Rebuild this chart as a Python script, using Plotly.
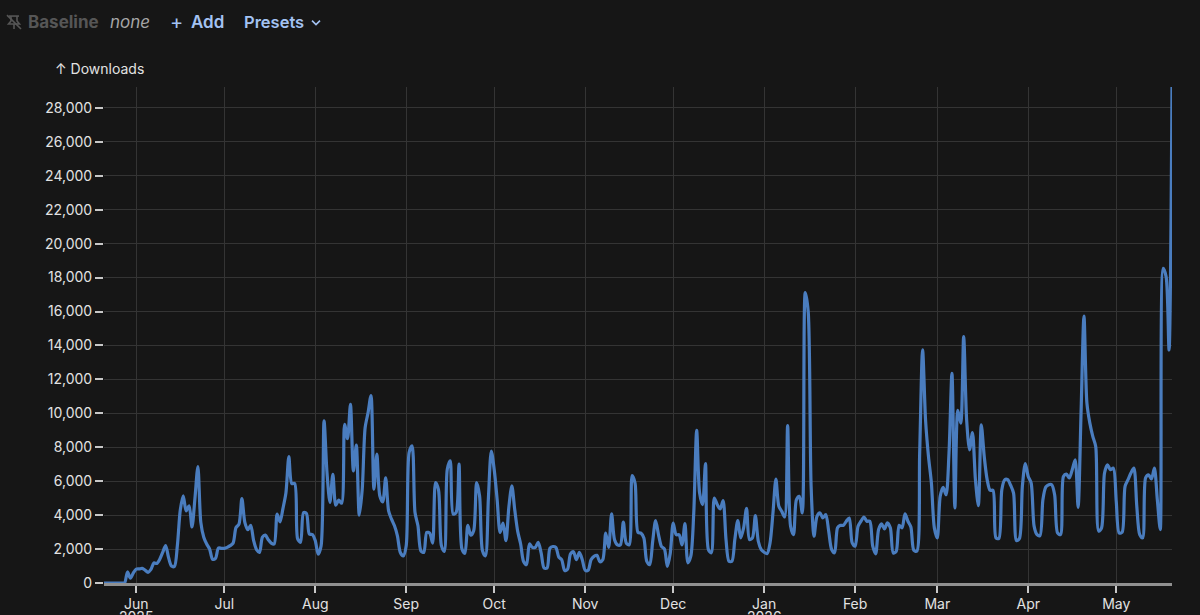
import datetime
import plotly.graph_objects as go

WIDTH = 1200
HEIGHT = 615
LEFT = 104
RIGHT = 1172
TOP = 87
BOTTOM = 583.5

# daily downloads
may_2025 = [0, 0, 0, 0, 0, 0, 0, 0, 650, 280, 600]
jun_2025 = [820, 830, 860, 760, 630, 800, 1180, 1150, 1400, 1800, 2200, 1500, 1000, 980, 2200, 4300, 5140,
            4250, 4550, 3300, 5000, 6860, 3570, 2700, 2300, 2000, 1400, 1450, 2060, 2040]
jul_2025 = [2040, 2100, 2200, 2350, 3270, 3470, 4980, 3570, 3140, 3400, 2500, 1960, 1800, 2700, 2820,
            2550, 2350, 2300, 4060, 3600, 4400, 5300, 7450, 5860, 5860, 2600, 2400, 4150, 4100, 2880, 2860]
aug_2025 = [2500, 1700, 2200, 9550, 6500, 4750, 6400, 4590, 4880, 4700, 9350, 8500, 10530, 6600, 8120, 4000,
            5500, 9150, 10040, 11050, 5530, 7590, 5140, 4780, 6200, 4250, 3760, 3370, 2780, 1800, 1600]
sep_2025 = [2200, 7690, 8080, 4150, 3370, 1900, 1800, 2980, 2940, 2350, 5920, 5500, 2200, 1860, 6700,
            7200, 4060, 4150, 7000, 2000, 1750, 3400, 2820, 3080, 5920, 5140, 1900, 1600, 4940, 7780]
oct_2025 = [6670, 4900, 2980, 3530, 2500, 4500, 5730, 4300, 3040, 2300, 1270, 1080, 2300, 2100, 2100, 2390,
            1760, 880, 880, 2050, 2150, 2100, 1530, 1370, 730, 820, 1720, 1840, 1370, 1800, 1370]
nov_2025 = [750, 750, 1370, 1570, 1630, 1250, 1370, 2940, 2100, 4080, 2550, 2250, 2250, 3590, 2350,
            2250, 6330, 5880, 2980, 2940, 2650, 1270, 1080, 2450, 3670, 2840, 2150, 2000, 980, 1760]
dec_2025 = [3530, 2850, 2840, 2250, 3500, 1190, 1580, 4130, 8990, 5300, 4620, 7030, 1970, 1780, 5010, 4620,
            4360, 4850, 2560, 1280, 1280, 2560, 3680, 2660, 3250, 4400, 2560, 2660, 3970, 2460, 1970]
jan_2026 = [1810, 1730, 2360, 4130, 6130, 4520, 4220, 3890, 9280, 3340, 2850, 4910, 5110, 4130, 17110, 16000,
            5700, 2760, 3930, 4130, 3830, 4030, 3050, 1970, 1780, 3250, 3400, 3400, 3640, 3830, 2360]
feb_2026 = [2170, 3340, 3640, 3890, 3640, 3640, 2170, 1720, 3150, 3480, 3190, 3540, 3250, 1770, 1870,
            3400, 3250, 4070, 3640, 3300, 1930, 1870, 7660, 13740, 9620, 7460, 5890, 3250]
mar_2026 = [2660, 5110, 5640, 5200, 7660, 12360, 4420, 10170, 9420, 14520, 9620, 7850, 8870, 6090, 4560, 9320,
            7460, 6090, 5460, 5460, 2660, 2620, 5500, 6090, 6090, 5760, 5300, 2500, 2620, 5700, 7030]
apr_2026 = [6280, 5890, 3350, 2850, 2790, 4910, 5660, 5790, 5790, 5200, 2950, 2850, 6280, 6420, 6190,
            6680, 7260, 4460, 10000, 15730, 10600, 9420, 8640, 8050, 3050, 3250, 6480, 6970, 6680, 6770]
may_2026 = [4810, 2950, 2990, 5700, 6090, 6480, 6770, 4520, 2850, 2660, 6190, 6380, 6130, 6770, 4910, 3150,
            18540, 18050, 13730, 29230]

downloads = (may_2025 + jun_2025 + jul_2025 + aug_2025 + sep_2025 + oct_2025 + nov_2025
             + dec_2025 + jan_2026 + feb_2026 + mar_2026 + apr_2026 + may_2026)
start = datetime.date(2025, 5, 21)
dates = [start + datetime.timedelta(days=i) for i in range(len(downloads))]

month_ticks = ["2025-06-01", "2025-07-01", "2025-08-01", "2025-09-01", "2025-10-01", "2025-11-01",
               "2025-12-01", "2026-01-01", "2026-02-01", "2026-03-01", "2026-04-01", "2026-05-01"]
month_labels = ["Jun", "Jul", "Aug", "Sep", "Oct", "Nov", "Dec", "Jan", "Feb", "Mar", "Apr", "May"]
year_ticks = ["2025-06-01", "2026-01-01"]
year_labels = ["2025", "2026"]
y_ticks = list(range(0, 30000, 2000))
y_labels = [f"{v:,}" for v in y_ticks]

BG = "#161616"
GRID = "#343434"
TEXT = "#e2e2e2"
BLUE = "#a3c2f2"
FONT = "Inter"


def px(x):
    # page pixels to paper coords
    return (x - LEFT) / (RIGHT - LEFT)


def py(y):
    return (BOTTOM - y) / (BOTTOM - TOP)


def header(text, x, y, color, size=17, weight=400, style="normal"):
    fig.add_annotation(text=text, x=px(x), y=py(y), xref="paper", yref="paper", xanchor="left",
                       yanchor="middle", showarrow=False,
                       font=dict(family=FONT, size=size, color=color, weight=weight, style=style))


def stroke(points, color, width=1.6):
    path = "M " + " L ".join(f"{px(x)} {py(y)}" for x, y in points)
    fig.add_shape(type="path", path=path, xref="paper", yref="paper",
                  line=dict(color=color, width=width))


fig = go.Figure(go.Scatter(
    x=dates,
    y=downloads,
    mode="lines",
    line=dict(color="#4a7dbf", width=3.2, shape="spline", smoothing=0.8),
    hoverinfo="skip",
))

fig.update_layout(
    width=WIDTH,
    height=HEIGHT,
    autosize=False,
    margin=dict(l=LEFT, r=WIDTH - RIGHT, t=TOP, b=HEIGHT - BOTTOM, pad=0),
    paper_bgcolor=BG,
    plot_bgcolor=BG,
    showlegend=False,
    font=dict(family=FONT, size=14, color=TEXT),
    xaxis=dict(
        range=[dates[0], dates[-1]],
        automargin=False,
        tickmode="array",
        tickvals=month_ticks,
        ticktext=month_labels,
        showgrid=True,
        gridcolor=GRID,
        gridwidth=1,
        ticks="outside",
        ticklen=7,
        tickwidth=1.5,
        tickcolor="#c8c8c8",
        showline=True,
        linecolor="#909090",
        linewidth=2.5,
        zeroline=False,
        ticklabelstandoff=-1,
        tickfont=dict(family=FONT, size=14, color=TEXT),
    ),
    yaxis=dict(
        range=[0, 29230],
        automargin=False,
        tickmode="array",
        tickvals=y_ticks,
        ticktext=y_labels,
        showgrid=True,
        gridcolor=GRID,
        gridwidth=1,
        ticks="outside",
        ticklen=8,
        tickwidth=1.5,
        tickcolor="#c8c8c8",
        showline=False,
        zeroline=False,
        tickfont=dict(family=FONT, size=14, color=TEXT),
    ),
)

# year under Jun and Jan runs off the bottom of the page, same as the original
for tick, label in zip(year_ticks, year_labels):
    fig.add_annotation(text=label, x=tick, y=py(617), xref="x", yref="paper", yanchor="middle",
                       showarrow=False, font=dict(family=FONT, size=14, color=TEXT))

header("↑ Downloads", 53, 68, TEXT, size=14)
header("Baseline", 26, 22, "#565656", weight=700)
header("none", 108, 22, "#a6a6a6", style="italic")
header("+", 168, 22, BLUE, size=20, weight=400)
header("Add", 189, 22, BLUE, weight=600)
header("Presets", 242, 22, BLUE, size=16.5, weight=600)
stroke([(312, 20.5), (316, 24.5), (320, 20.5)], BLUE)

# crossed out pin next to Baseline
stroke([(9, 16), (19, 16)], "#565656")
stroke([(11, 16), (11, 21), (8.5, 24), (19.5, 24), (17, 21), (17, 16)], "#565656")
stroke([(14, 24), (14, 29)], "#565656")
stroke([(7, 15), (21, 29)], "#565656")

# page margin would push the whole chart 8px off
no_margin = "document.body.style.margin='0';document.body.style.overflow='hidden';document.body.style.background='#161616';"
fig.write_html("out.html", post_script=no_margin, config={"displayModeBar": False})
